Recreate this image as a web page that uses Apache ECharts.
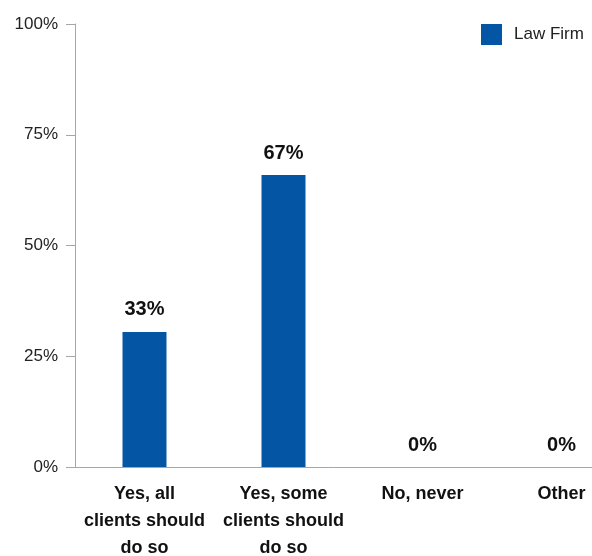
<!DOCTYPE html>
<html>
<head>
<meta charset="utf-8">
<script src="https://cdn.jsdelivr.net/npm/echarts@6/dist/echarts.min.js"></script>
<style>
html,body{margin:0;padding:0;background:#fff;}
#chart{width:592px;height:556px;}
</style>
</head>
<body>
<div id="chart"></div>
<script>
const categories = ['Yes, all\nclients should\ndo so', 'Yes, some\nclients should\ndo so', 'No, never', 'Other'];
const seriesName = 'Law Firm';
const barValues = [30.5, 65.9, 0, 0];
const barLabels = ['33%', '67%', '0%', '0%'];
const yTicks = [0, 25, 50, 75, 100];

const chart = echarts.init(document.getElementById('chart'), null, {renderer: 'canvas'});
chart.setOption({
  animation: false,
  backgroundColor: '#ffffff',
  legend: {
    show: true,
    data: [{name: seriesName, icon: 'rect'}],
    left: 481,
    top: 24,
    itemWidth: 21,
    itemHeight: 21,
    padding: 0,
    textStyle: {fontFamily: 'Liberation Sans', fontSize: 17, color: '#222', padding: [0, 0, 0, 7]}
  },
  grid: {left: 75, top: 24, width: 556, height: 443, containLabel: false, outerBoundsMode: 'none'},
  xAxis: {
    type: 'category',
    data: categories,
    axisLine: {show: true, lineStyle: {color: '#a6a6a6', width: 1}},
    axisTick: {show: false},
    axisLabel: {
      interval: 0,
      margin: 14,
      fontFamily: 'Liberation Sans',
      fontWeight: 'bold',
      fontSize: 18,
      lineHeight: 27,
      color: '#111'
    }
  },
  yAxis: {
    type: 'value',
    min: yTicks[0],
    max: yTicks[yTicks.length - 1],
    interval: 25,
    axisLine: {show: true, lineStyle: {color: '#a6a6a6', width: 1}},
    axisTick: {show: true, length: 9, lineStyle: {color: '#a6a6a6'}},
    splitLine: {show: false},
    axisLabel: {
      margin: 17,
      fontFamily: 'Liberation Sans',
      fontSize: 17,
      color: '#222',
      formatter: v => v + '%'
    }
  },
  series: [{
    name: seriesName,
    type: 'bar',
    data: barValues,
    barWidth: 44,
    itemStyle: {color: '#0455a4'},
    label: {
      show: true,
      position: 'top',
      distance: 12,
      fontFamily: 'Liberation Sans',
      fontWeight: 'bold',
      fontSize: 20,
      color: '#111',
      formatter: p => barLabels[p.dataIndex]
    }
  }]
});
</script>
</body>
</html>
